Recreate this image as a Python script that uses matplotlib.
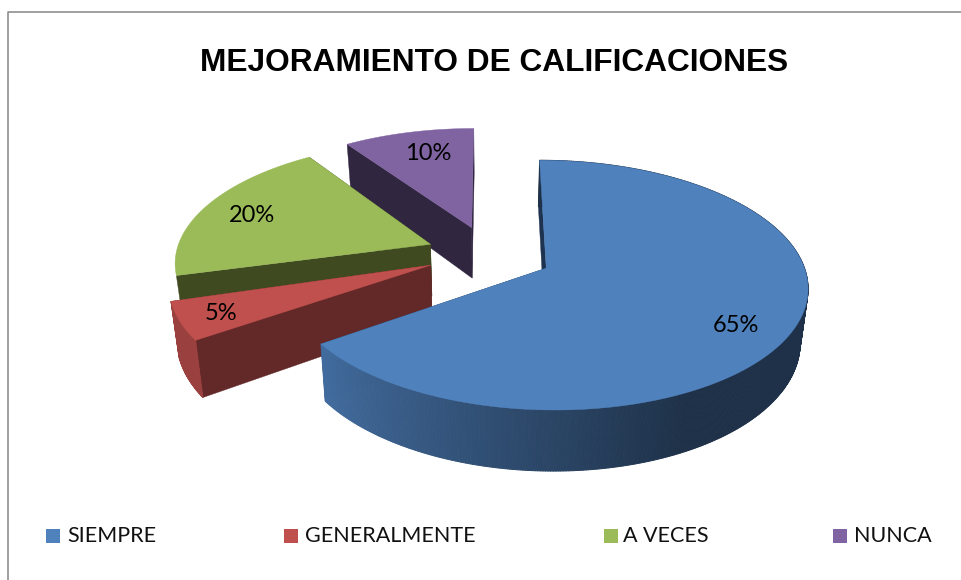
import numpy as np
import matplotlib
matplotlib.use('Agg')
from matplotlib import pyplot as plt
from matplotlib.collections import PolyCollection

# datos
categorias = ['SIEMPRE', 'GENERALMENTE', 'A VECES', 'NUNCA']
valores = [65, 5, 20, 10]
etiquetas = ['65%', '5%', '20%', '10%']

# colores: cara superior y pared radial
color_top = ['#4F81BD', '#C0504D', '#9BBB59', '#8064A2']
color_radial = ['#1E3350', '#632828', '#3F4A20', '#302640']

# perspectiva del pastel, en pixeles
cx, cy = 490, 255
rx, ry = 254.5, 119
k = 0.134
explode = 0.24
depth = 52
s_bottom = 0.975

# pequenos ajustes de vista por sector: grados inicio/fin y desplazamiento en px
giro_ini = [0, 1.5, 3, 1.5]
giro_fin = [1.2, 1.5, 2, 0]
mover = [(1, 0), (-4, -3), (-2, -2), (0, -1)]


def proyectar(u, v, abajo=False):
    w = 1 + k * v
    x = cx + rx * u / w
    y = cy - ry * v / w
    if abajo:
        x = cx + (x - cx) * s_bottom
        y = y + depth / w
    return x, y


def shade_rim(i, theta):
    # el lado izquierdo de la pared es mas claro
    if i == 0:
        return np.interp(theta, [153, 234], [0.38, 0.84])
    return 0.8


fig = plt.figure(figsize=(9.62, 5.80), dpi=100)
ax = fig.add_axes([0, 0, 1, 1])
ax.set_xlim(0, 962)
ax.set_ylim(580, 0)
ax.axis('off')

# borde del grafico
ax.plot([8.5, 8.5, 962], [580, 11.5, 11.5], color='#868686', lw=1.1, zorder=1)

# angulos de cada sector (sentido horario desde arriba)
limites = np.cumsum([0] + valores) * 360 / sum(valores)
orden = [3, 2, 1, 0]  # de atras hacia adelante

z = 2
for i in orden:
    t0, t1 = limites[i], limites[i + 1]
    mid = np.radians((t0 + t1) / 2)
    du, dv = explode * np.sin(mid), explode * np.cos(mid)
    thetas = np.linspace(t0 + giro_ini[i], t1 + giro_fin[i], int(t1 - t0) * 2 + 2)
    us = du + np.sin(np.radians(thetas))
    vs = dv + np.cos(np.radians(thetas))
    mx, my = mover[i]

    xt, yt = proyectar(us, vs)
    xb, yb = proyectar(us, vs, abajo=True)
    xa, ya = proyectar(du, dv)
    xab, yab = proyectar(du, dv, abajo=True)
    xt, xb, xa, xab = xt + mx, xb + mx, xa + mx, xab + mx
    yt, yb, ya, yab = yt + my, yb + my, ya + my, yab + my

    # paredes radiales
    for j in [-1, 0]:
        ax.fill([xa, xt[j], xb[j], xab], [ya, yt[j], yb[j], yab],
                color=color_radial[i], lw=0.3, zorder=z)
    z += 1

    # pared exterior, por tramos para el degradado (solo la de adelante se ve)
    if i in [0, 1]:
        polys, cols = [], []
        base = np.array(matplotlib.colors.to_rgb(color_top[i]))
        for n in range(len(thetas) - 1):
            polys.append([(xt[n], yt[n]), (xt[n + 1], yt[n + 1]),
                          (xb[n + 1], yb[n + 1]), (xb[n], yb[n])])
            cols.append(base * shade_rim(i, thetas[n]))
        ax.add_collection(PolyCollection(polys, facecolors=cols, edgecolors='face',
                                         linewidths=0.7, zorder=z))
    z += 1

    # cara superior
    ax.fill(np.r_[xa, xt], np.r_[ya, yt], color=color_top[i], lw=0.3, zorder=z)
    z += 1

# etiquetas de porcentaje
label_xy = [(736, 325), (221, 313), (252, 216), (428, 153)]
for txt, (x, y) in zip(etiquetas, label_xy):
    ax.text(x, y, txt, family='Lato', fontsize=17, color='black',
            ha='center', va='center', zorder=50)

# titulo
ax.text(494.5, 63, 'MEJORAMIENTO DE CALIFICACIONES', family='Liberation Sans',
        fontweight='bold', fontsize=22.8, ha='center', va='center', color='black')

# leyenda
cuadro_x = [46, 284, 604, 833]
texto_x = [67, 305, 623, 854]
for i, nombre in enumerate(categorias):
    ax.fill([cuadro_x[i], cuadro_x[i] + 14.5, cuadro_x[i] + 14.5, cuadro_x[i]],
            [529, 529, 543, 543], color=color_top[i], lw=0)
    ax.text(texto_x[i], 535.5, nombre, family='Lato', fontsize=15.5, color='#111111',
            ha='left', va='center')

plt.savefig('out.png', dpi=100)
